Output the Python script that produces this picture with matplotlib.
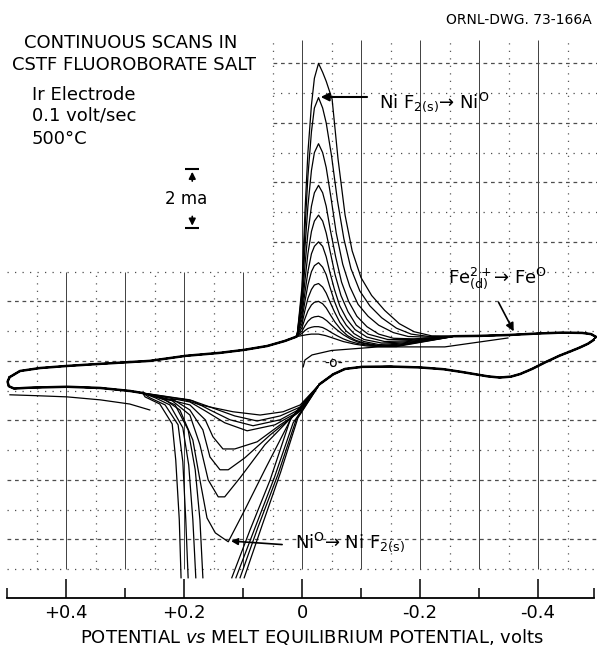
import numpy as np
import matplotlib.pyplot as plt

plt.rcParams['font.family'] = ['DejaVu Sans']
plt.rcParams['mathtext.fontset'] = 'dejavusans'

# potential (V vs melt equilibrium potential) and current (ma)
# cathodic sweep, common part from the left tip to the foot of the Ni peak
upper_left_v = [0.495, 0.478, 0.444, 0.398, 0.342, 0.258, 0.197, 0.139, 0.098, 0.059, 0.029, 0.010]
upper_left_i = [-0.54, -0.34, -0.24, -0.17, -0.10, 0.00, 0.17, 0.27, 0.37, 0.50, 0.67, 0.81]

# NiF2(s) -> Ni reduction peaks, one per scan (largest first)
ni_peaks = [
    ([0.008, 0.0, -0.005, -0.010, -0.016, -0.021, -0.028, -0.035, -0.041, -0.051, -0.061, -0.073, -0.085, -0.100, -0.118, -0.140, -0.165, -0.190, -0.220],
     [0.9, 2.5, 5.0, 7.0, 8.6, 9.5, 10.0, 9.7, 9.4, 8.8, 6.8, 4.9, 3.7, 2.8, 2.2, 1.7, 1.25, 0.98, 0.84]),
    ([0.008, 0.0, -0.005, -0.010, -0.016, -0.021, -0.028, -0.035, -0.041, -0.050, -0.060, -0.071, -0.083, -0.098, -0.115, -0.135, -0.160, -0.185, -0.215],
     [0.9, 2.3, 4.4, 6.2, 7.7, 8.5, 8.85, 8.5, 8.0, 6.9, 5.4, 4.1, 3.1, 2.35, 1.85, 1.45, 1.1, 0.9, 0.82]),
    ([0.008, 0.0, -0.005, -0.010, -0.016, -0.021, -0.028, -0.035, -0.041, -0.049, -0.058, -0.069, -0.081, -0.095, -0.112, -0.130, -0.155, -0.180, -0.210],
     [0.9, 2.1, 3.8, 5.2, 6.4, 7.0, 7.3, 7.0, 6.5, 5.5, 4.3, 3.25, 2.5, 1.9, 1.5, 1.2, 0.95, 0.82, 0.8]),
    ([0.008, 0.0, -0.005, -0.010, -0.016, -0.021, -0.028, -0.035, -0.041, -0.048, -0.057, -0.067, -0.079, -0.093, -0.110, -0.130, -0.155, -0.190],
     [0.9, 1.9, 3.2, 4.3, 5.2, 5.65, 5.9, 5.65, 5.2, 4.4, 3.5, 2.65, 2.0, 1.5, 1.15, 0.9, 0.76, 0.74]),
    ([0.008, 0.0, -0.005, -0.010, -0.016, -0.021, -0.028, -0.035, -0.041, -0.048, -0.056, -0.066, -0.078, -0.092, -0.112, -0.145, -0.185],
     [0.9, 1.7, 2.7, 3.6, 4.35, 4.7, 4.9, 4.7, 4.3, 3.65, 2.9, 2.2, 1.65, 1.2, 0.9, 0.72, 0.72]),
    ([0.008, 0.0, -0.005, -0.010, -0.016, -0.021, -0.028, -0.035, -0.041, -0.047, -0.055, -0.064, -0.076, -0.090, -0.110, -0.140, -0.180],
     [0.9, 1.55, 2.3, 3.0, 3.6, 3.85, 4.0, 3.85, 3.5, 3.0, 2.4, 1.85, 1.4, 1.05, 0.8, 0.65, 0.68]),
    ([0.008, 0.0, -0.005, -0.010, -0.016, -0.021, -0.028, -0.035, -0.041, -0.047, -0.055, -0.064, -0.075, -0.088, -0.105, -0.135, -0.175],
     [0.88, 1.4, 2.0, 2.55, 3.0, 3.2, 3.3, 3.15, 2.9, 2.5, 2.0, 1.55, 1.2, 0.92, 0.72, 0.6, 0.64]),
    ([0.008, 0.0, -0.005, -0.010, -0.016, -0.021, -0.028, -0.035, -0.041, -0.047, -0.055, -0.064, -0.075, -0.088, -0.105, -0.130, -0.170],
     [0.86, 1.25, 1.7, 2.1, 2.4, 2.55, 2.6, 2.48, 2.28, 2.0, 1.65, 1.3, 1.0, 0.8, 0.65, 0.55, 0.6]),
    ([0.008, 0.0, -0.005, -0.010, -0.016, -0.021, -0.028, -0.035, -0.041, -0.048, -0.056, -0.066, -0.077, -0.090, -0.105, -0.130, -0.165],
     [0.85, 1.12, 1.42, 1.68, 1.88, 1.97, 2.0, 1.92, 1.78, 1.55, 1.3, 1.05, 0.85, 0.7, 0.6, 0.52, 0.56]),
    ([0.008, 0.0, -0.005, -0.010, -0.016, -0.021, -0.028, -0.035, -0.042, -0.050, -0.060, -0.070, -0.082, -0.095, -0.110, -0.130, -0.160],
     [0.84, 1.0, 1.18, 1.33, 1.44, 1.48, 1.5, 1.45, 1.35, 1.2, 1.03, 0.88, 0.74, 0.63, 0.56, 0.5, 0.52]),
    ([0.008, 0.0, -0.005, -0.010, -0.016, -0.021, -0.028, -0.035, -0.042, -0.050, -0.060, -0.070, -0.082, -0.095, -0.110, -0.130, -0.160],
     [0.83, 0.92, 1.02, 1.09, 1.13, 1.15, 1.15, 1.12, 1.05, 0.95, 0.84, 0.74, 0.65, 0.58, 0.53, 0.5, 0.5]),
    ([0.008, 0.0, -0.008, -0.016, -0.028, -0.040, -0.055, -0.070, -0.090, -0.110, -0.130, -0.160],
     [0.82, 0.85, 0.88, 0.9, 0.9, 0.85, 0.75, 0.65, 0.56, 0.5, 0.48, 0.48]),
]

# common part out to the Fe reduction end and back
upper_right_v = [-0.26, -0.30, -0.35, -0.40, -0.44, -0.475, -0.49, -0.498]
upper_right_i = [0.83, 0.84, 0.87, 0.92, 0.95, 0.94, 0.90, 0.81]
lower_right_v = [-0.494, -0.485, -0.471, -0.455, -0.437, -0.412, -0.390, -0.370, -0.354, -0.335, -0.315,
                 -0.297, -0.270, -0.240, -0.200, -0.150, -0.102, -0.073, -0.053, -0.030]
lower_right_i = [0.70, 0.58, 0.45, 0.32, 0.18, -0.05, -0.27, -0.44, -0.53, -0.56, -0.52,
                 -0.46, -0.37, -0.28, -0.22, -0.19, -0.20, -0.27, -0.45, -0.78]

# Ni -> NiF2(s) oxidation troughs, largest first (nan = trace runs off the chart)
nan = np.nan
ni_troughs = [
    ([0.007, 0.036, 0.068, 0.098, nan, 0.205, 0.208, 0.214, 0.220, 0.241, 0.266],
     [-1.92, -3.73, -5.55, -7.29, nan, -7.29, -5.34, -3.33, -2.12, -1.45, -1.21]),
    ([0.010, 0.041, 0.075, 0.105, nan, 0.193, 0.197, 0.202, 0.210, 0.232, 0.258],
     [-1.98, -3.83, -5.61, -7.29, nan, -7.29, -5.34, -3.39, -2.15, -1.48, -1.24]),
    ([0.015, 0.047, 0.081, 0.112, nan, 0.180, 0.185, 0.192, 0.202, 0.224, 0.249],
     [-2.08, -3.93, -5.68, -7.29, nan, -7.29, -5.34, -3.50, -2.25, -1.48, -1.24]),
    ([0.020, 0.054, 0.088, 0.119, nan, 0.168, 0.173, 0.181, 0.193, 0.215, 0.241],
     [-1.98, -4.00, -5.68, -7.29, nan, -7.29, -5.34, -3.66, -2.32, -1.48, -1.24]),
    ([0.017, 0.063, 0.097, 0.125, 0.147, 0.161, 0.173, 0.185, 0.207, 0.232],
     [-1.88, -3.66, -5.01, -6.08, -5.78, -5.28, -4.00, -2.66, -1.65, -1.31]),
    ([0.014, 0.063, 0.105, 0.131, 0.142, 0.159, 0.173, 0.190, 0.220],
     [-1.82, -2.82, -3.93, -4.57, -4.57, -4.00, -2.82, -1.82, -1.34]),
    ([0.010, 0.054, 0.097, 0.125, 0.139, 0.156, 0.168, 0.190, 0.215],
     [-1.78, -2.49, -3.26, -3.66, -3.66, -3.23, -2.32, -1.65, -1.34]),
    ([0.007, 0.037, 0.076, 0.114, 0.134, 0.151, 0.164, 0.190],
     [-1.75, -2.15, -2.72, -2.96, -2.96, -2.55, -1.98, -1.48]),
    ([0.003, 0.046, 0.093, 0.131, 0.164, 0.190],
     [-1.68, -2.15, -2.35, -2.08, -1.68, -1.38]),
    ([0.003, 0.037, 0.083, 0.122, 0.156, 0.186],
     [-1.61, -1.98, -2.18, -1.98, -1.65, -1.34]),
    ([0.003, 0.037, 0.076, 0.114, 0.156, 0.190],
     [-1.55, -1.85, -2.02, -1.85, -1.55, -1.31]),
    ([0.003, 0.032, 0.071, 0.117, 0.173, 0.202, 0.229],
     [-1.48, -1.71, -1.82, -1.71, -1.48, -1.28, -1.31]),
]

lower_left_v = [0.270, 0.292, 0.342, 0.398, 0.461, 0.488, 0.497, 0.499, 0.496]
lower_left_i = [-1.08, -1.01, -0.91, -0.87, -0.90, -0.93, -0.85, -0.70, -0.56]

# a second, lower trace along the left end
lower_left2_v = [0.258, 0.292, 0.342, 0.398, 0.450, 0.495]
lower_left2_i = [-1.65, -1.45, -1.31, -1.21, -1.17, -1.14]

# first sweep, starting from rest potential
first_v = [-0.002, -0.005, -0.017, -0.050, -0.129, -0.242, -0.349]
first_i = [-0.20, 0.03, 0.20, 0.35, 0.47, 0.47, 0.77]

# axis ticks, grid and the 2 ma scale bar
major_ticks = [0.4, 0.2, 0.0, -0.2, -0.4]
major_labels = ['+0.4', '+0.2', '0', '-0.2', '-0.4']
minor_ticks = [0.5, 0.3, 0.1, -0.1, -0.3, -0.495]
grid_v = [0.45, 0.4, 0.35, 0.3, 0.25, 0.2, 0.15, 0.1, 0.05, 0.0,
          -0.05, -0.1, -0.15, -0.2, -0.25, -0.3, -0.35, -0.4, -0.45]
grid_i = [10, 9, 8, 7, 6, 5, 4, 3, 2, 1, 0, -1, -2, -3, -4, -5, -6, -7]
bar_v, bar_top, bar_bottom = 0.186, 6.45, 4.45

W, H = 597, 647
fig = plt.figure(figsize=(W / 100, H / 100), dpi=100)
ax = fig.add_axes([7 / W, 49 / H, 590 / W, 598 / H])
ax.set_xlim(0.5, -0.5)
ax.set_ylim(-7.97, 12.13)

# graph paper
for v in grid_v:
    major = abs(round(v * 10) - v * 10) < 1e-6
    top = 10.8 if v <= 0.05 else 3.0
    if major:
        ax.vlines(v, -7.0, top, colors='0.25', lw=0.7, zorder=0)
    else:
        ax.vlines(v, -7.0, top, colors='0.35', lw=0.9, linestyles=(0, (1, 5)), zorder=0)
for i in grid_i:
    left = 0.5 if i <= 3 else 0.05
    ax.hlines(i, left, -0.5, colors='0.3', lw=0.9,
              linestyles=(0, (3, 3)) if i % 2 == 0 else (0, (1, 5)), zorder=0)

# scans
for (pv, pi), (tv, ti) in zip(ni_peaks, ni_troughs):
    v = upper_left_v + pv + upper_right_v + lower_right_v + tv + lower_left_v + upper_left_v[:1]
    i = upper_left_i + pi + upper_right_i + lower_right_i + ti + lower_left_i + upper_left_i[:1]
    ax.plot(v, i, color='black', lw=0.9, solid_joinstyle='round', clip_on=False)

# overlapping traces look heavier along the common paths
for v, i in [(upper_left_v, upper_left_i), (upper_right_v, upper_right_i),
             (lower_right_v, lower_right_i), (lower_left_v, lower_left_i)]:
    ax.plot(v, i, color='black', lw=1.8, solid_joinstyle='round', clip_on=False)
ax.plot(lower_left2_v, lower_left2_i, color='black', lw=0.9)
ax.plot(first_v, first_i, color='black', lw=0.9)
ax.text(-0.053, -0.07, '-o-', fontsize=10, ha='center', va='center')

# scale bar
ax.annotate('', xy=(bar_v, bar_top), xytext=(bar_v, bar_top - 0.5),
            arrowprops=dict(arrowstyle='-|>', color='black', lw=1.2, mutation_scale=10))
ax.annotate('', xy=(bar_v, bar_bottom), xytext=(bar_v, bar_bottom + 0.5),
            arrowprops=dict(arrowstyle='-|>', color='black', lw=1.2, mutation_scale=10))
ax.hlines([bar_top, bar_bottom], bar_v + 0.012, bar_v - 0.012, colors='black', lw=1.5)
ax.text(bar_v + 0.01, (bar_top + bar_bottom) / 2, '2 ma', fontsize=12, ha='center', va='center')

# peak labels
ax.annotate('', xy=(-0.027, 8.87), xytext=(-0.115, 8.87),
            arrowprops=dict(arrowstyle='-|>', color='black', lw=1.5, mutation_scale=12))
ax.text(-0.131, 8.5, 'Ni F$_{\\mathrm{2(s)}}$→ Ni$^{\\mathrm{O}}$', fontsize=13, ha='left', va='baseline')
ax.annotate('', xy=(-0.361, 0.91), xytext=(-0.331, 2.05),
            arrowprops=dict(arrowstyle='-|>', color='black', lw=1.2, mutation_scale=12))
ax.text(-0.247, 2.62, 'Fe$^{2+}_{\\mathrm{(d)}}$→ Fe$^{\\mathrm{O}}$', fontsize=13, ha='left', va='baseline')
ax.annotate('', xy=(0.125, -6.05), xytext=(0.029, -6.18),
            arrowprops=dict(arrowstyle='-|>', color='black', lw=1.2, mutation_scale=10))
ax.text(0.012, -6.29, 'Ni$^{\\mathrm{O}}$→ Ni F$_{\\mathrm{2(s)}}$', fontsize=13, ha='left', va='baseline')

# bottom axis only
for side in ['left', 'right', 'top']:
    ax.spines[side].set_visible(False)
ax.spines['bottom'].set_bounds(-0.495, 0.5)
ax.spines['bottom'].set_linewidth(1.3)
ax.set_yticks([])
ax.set_xticks(major_ticks)
ax.set_xticklabels(major_labels, fontsize=13)
ax.set_xticks(minor_ticks, minor=True)
ax.tick_params(axis='x', which='major', direction='in', length=14, width=1.1, pad=4)
ax.tick_params(axis='x', which='minor', direction='in', length=7, width=1.1)
ax.patch.set_alpha(0)

# titles and notes
def ftext(x, y, s, **kw):
    fig.text(x / W, 1 - y / H, s, **kw)

ftext(312, 637, 'POTENTIAL $\\mathit{vs}$ MELT EQUILIBRIUM POTENTIAL, volts', fontsize=13, ha='center', va='center')
ftext(24, 43, 'CONTINUOUS SCANS IN', fontsize=13, va='center')
ftext(12, 65, 'CSTF FLUOROBORATE SALT', fontsize=13, va='center')
ftext(32, 95, 'Ir Electrode', fontsize=13, va='center')
ftext(32, 116, '0.1 volt/sec', fontsize=13, va='center')
ftext(32, 139, '500°C', fontsize=13, va='center')
ftext(592, 20, 'ORNL-DWG. 73-166A', fontsize=10, ha='right', va='center')

fig.savefig('out.png', dpi=100)
